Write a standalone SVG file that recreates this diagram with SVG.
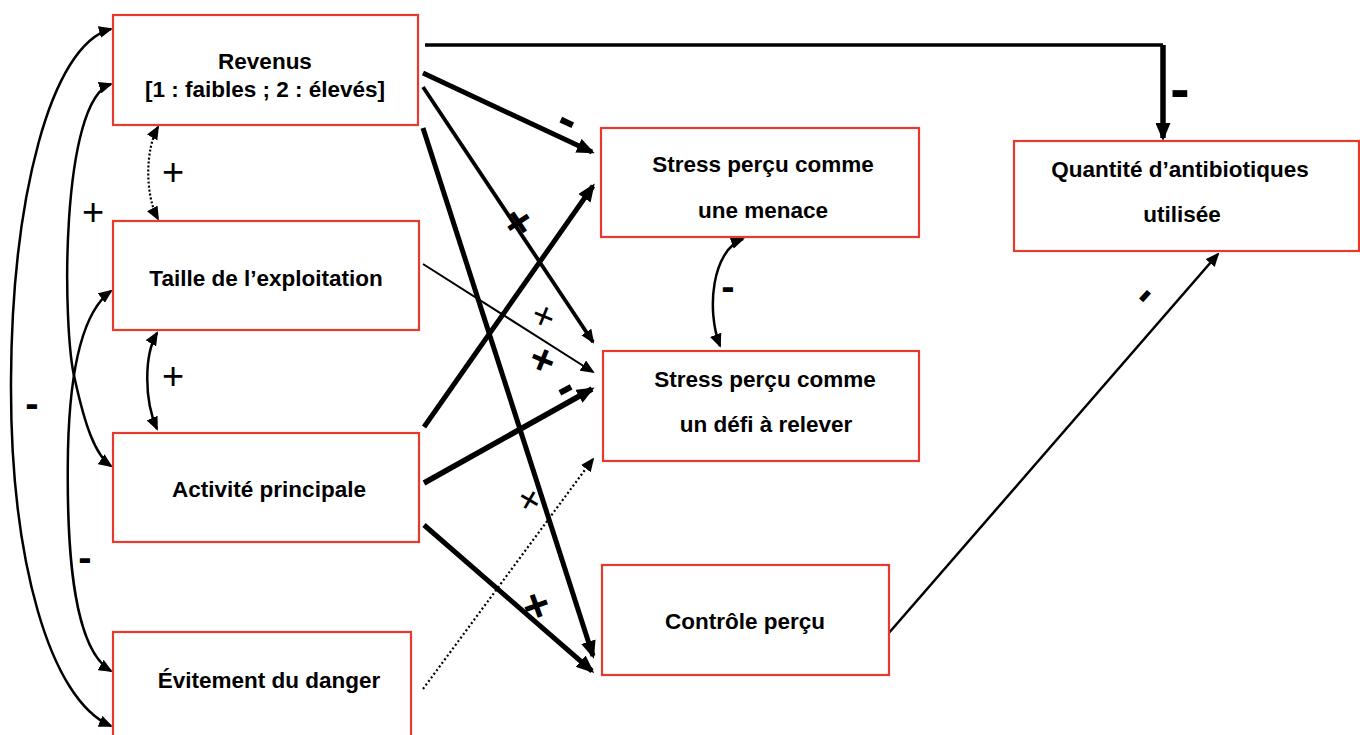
<svg xmlns="http://www.w3.org/2000/svg" width="1360" height="735" viewBox="0 0 1360 735">
<style>
.box{fill:#fff;stroke:#e8392f;stroke-width:2.2}
.t{font-family:"Liberation Sans",Arial,sans-serif;font-weight:bold;font-size:22.5px;fill:#000;text-anchor:middle}
.s{font-family:"Liberation Sans",Arial,sans-serif;font-size:38px;fill:#000;text-anchor:middle}
.sb{font-family:"Liberation Sans",Arial,sans-serif;font-weight:bold;font-size:40px;fill:#000;text-anchor:middle}
.c{fill:none;stroke:#000}
</style>
<defs>
<marker id="ah" markerUnits="userSpaceOnUse" markerWidth="14" markerHeight="12" viewBox="0 0 14 12" refX="12" refY="6" orient="auto-start-reverse"><path d="M0,0 L14,6 L0,12 z" fill="#000"/></marker>
<marker id="ahL" markerUnits="userSpaceOnUse" markerWidth="18" markerHeight="15" viewBox="0 0 18 15" refX="15" refY="7.5" orient="auto-start-reverse"><path d="M0,0 L18,7.5 L0,15 z" fill="#000"/></marker>
</defs>
<rect width="1360" height="735" fill="#fff"/>
<g id="connectors">
<path class="c" d="M425,45 H1163" stroke-width="3.5"/>
<path class="c" d="M1163,45 V138" stroke-width="5.5" marker-end="url(#ahL)"/>
<path class="c" d="M423,73 L592,152" stroke-width="5" marker-end="url(#ahL)"/>
<path class="c" d="M423,87 L593,342" stroke-width="3.8" marker-end="url(#ah)"/>
<path class="c" d="M423,128 L593,656" stroke-width="5" marker-end="url(#ahL)"/>
<path class="c" d="M423,264 L593,372" stroke-width="2" marker-end="url(#ah)"/>
<path class="c" d="M424,427 L593,186" stroke-width="5" marker-end="url(#ahL)"/>
<path class="c" d="M424,483 L592,389" stroke-width="5.5" marker-end="url(#ahL)"/>
<path class="c" d="M424,525 L592,671" stroke-width="5" marker-end="url(#ahL)"/>
<path class="c" d="M423,689 L593,459" stroke-width="2.2" stroke-dasharray="2 2.5" marker-end="url(#ah)"/>
<path class="c" d="M888,634 L1218,254" stroke-width="2.5" marker-end="url(#ah)"/>
<path class="c" d="M111,29 C50,45 12,200 11,380 C10,560 50,700 111,726" stroke-width="2.5" marker-start="url(#ah)" marker-end="url(#ah)"/>
<path class="c" d="M111,84 C60,100 62,330 75,380 C85,425 95,455 111,466" stroke-width="2.5" marker-start="url(#ah)" marker-end="url(#ah)"/>
<path class="c" d="M111,291 C85,310 70,360 68,450 C66,560 75,650 111,671" stroke-width="2.5" marker-start="url(#ah)" marker-end="url(#ah)"/>
<path class="c" d="M158,127 C145,150 145,195 158,219" stroke-width="2.2" stroke-dasharray="2 2" marker-start="url(#ah)" marker-end="url(#ah)"/>
<path class="c" d="M157,333 C144,355 144,400 157,429" stroke-width="2.5" marker-start="url(#ah)" marker-end="url(#ah)"/>
<path class="c" d="M743,239 C712,250 706,310 720,346" stroke-width="2.5" marker-start="url(#ah)" marker-end="url(#ah)"/>
</g>
<g id="labels">
<text class="s" x="173" y="185">+</text>
<text class="s" x="93" y="225">+</text>
<text class="s" x="173" y="389">+</text>
<text class="sb" x="32" y="417">-</text>
<text class="sb" x="85" y="571">-</text>
<text class="sb" x="728" y="300">-</text>
<text class="sb" x="1180" y="109" style="font-size:58px">-</text>
<text class="sb" x="567" y="136" style="font-size:52px" transform="rotate(25 567 122)">-</text>
<text class="sb" x="565" y="403" style="font-size:50px" transform="rotate(-28 565 389)">-</text>
<text class="sb" x="1145" y="308" style="font-size:46px" transform="rotate(-48 1145 296)">-</text>
<text class="sb" x="519" y="238" style="font-size:46px" transform="rotate(56 519 222)">+</text>
<text class="s" x="544" y="329" transform="rotate(22 544 315)">+</text>
<text class="sb" x="543" y="374" style="font-size:42px" transform="rotate(22 543 359)">+</text>
<text class="s" x="530" y="513" transform="rotate(30 530 499)">+</text>
<text class="sb" x="536" y="621" style="font-size:46px" transform="rotate(-20 536 605)">+</text>
</g>
<g id="n-revenus"><rect class="box" x="113" y="15" width="305" height="110"/><text class="t" x="265" y="69">Revenus</text><text class="t" x="265" y="97">[1 : faibles ; 2 : élevés]</text></g>
<g id="n-taille"><rect class="box" x="113" y="221" width="306" height="109"/><text class="t" x="266" y="286">Taille de l’exploitation</text></g>
<g id="n-activite"><rect class="box" x="113" y="433" width="306" height="109"/><text class="t" x="269" y="497">Activité principale</text></g>
<g id="n-evitement"><rect class="box" x="113" y="632" width="298" height="115"/><text class="t" x="269" y="688">Évitement du danger</text></g>
<g id="n-menace"><rect class="box" x="601" y="128" width="318" height="109"/><text class="t" x="763" y="172">Stress perçu comme</text><text class="t" x="763" y="218">une menace</text></g>
<g id="n-defi"><rect class="box" x="603" y="351" width="316" height="110"/><text class="t" x="765" y="387">Stress perçu comme</text><text class="t" x="766" y="432">un défi à relever</text></g>
<g id="n-controle"><rect class="box" x="602" y="565" width="287" height="110"/><text class="t" x="745" y="629">Contrôle perçu</text></g>
<g id="n-quantite"><rect class="box" x="1014" y="141" width="345" height="110"/><text class="t" x="1180" y="177">Quantité d’antibiotiques</text><text class="t" x="1182" y="222">utilisée</text></g>
</svg>
